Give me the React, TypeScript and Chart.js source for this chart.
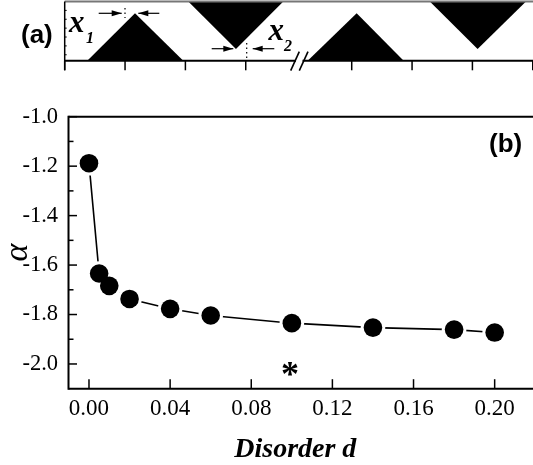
import React, { useEffect, useRef } from "react";
import { Chart, registerables } from "chart.js";

Chart.register(...registerables);

// Panel (b) data
const disorder = [0, 0.005, 0.01, 0.02, 0.04, 0.06, 0.1, 0.14, 0.18, 0.2];
const alpha = [-1.188, -1.634, -1.684, -1.737, -1.777, -1.804, -1.835, -1.853, -1.861, -1.873];
const xTicks = [0, 0.04, 0.08, 0.12, 0.16, 0.2];
const yMajor = [-1.0, -1.2, -1.4, -1.6, -1.8, -2.0];
const yMinor = [-1.1, -1.3, -1.5, -1.7, -1.9];

// Panel (a) schematic, in axis-tick units
const upTriX1 = [0.374, 1.165, 1.965];
const upTriX2 = [4.026, 4.838, 5.617];
const upTriY = [0, 0.8, 0];
const downTriX1 = [2.048, 2.838, 3.622];
const downTriX2 = [6.05, 6.842, 7.644];
const downTriY = [1, 0.198, 1];
const topTicks = [0, 1, 2, 3, 4.756, 5.756, 6.756, 7.756];
const leftDots = [0.1, 0.25, 0.4, 0.55, 0.7, 0.85];

const SERIF = '"Liberation Serif", serif';
const SANS = '"Liberation Sans", sans-serif';

const pts = (xs: number[], ys: number[]) => xs.map((x, i) => ({ x, y: ys[i] }));

const drawText = (
  ctx: CanvasRenderingContext2D,
  text: string,
  x: number,
  y: number,
  font: string,
  align: CanvasTextAlign = "center"
) => {
  ctx.font = font;
  ctx.fillStyle = "#000";
  ctx.textAlign = align;
  ctx.textBaseline = "alphabetic";
  ctx.fillText(text, x, y);
};

const seg = (ctx: CanvasRenderingContext2D, x1: number, y1: number, x2: number, y2: number, w: number, c = "#000") => {
  ctx.strokeStyle = c;
  ctx.lineWidth = w;
  ctx.beginPath();
  ctx.moveTo(x1, y1);
  ctx.lineTo(x2, y2);
  ctx.stroke();
};

const arrow = (ctx: CanvasRenderingContext2D, from: number, to: number, y: number) => {
  seg(ctx, from, y, to, y, 1.2);
  const d = to > from ? -1 : 1;
  ctx.fillStyle = "#000";
  ctx.beginPath();
  ctx.moveTo(to, y);
  ctx.lineTo(to + d * 10, y - 3);
  ctx.lineTo(to + d * 10, y + 3);
  ctx.closePath();
  ctx.fill();
};

const panelAPlugin = {
  id: "panelA",
  afterDatasetsDraw(chart: any) {
    const { ctx, scales, chartArea } = chart;
    const x = scales.x;
    const y = scales.y;
    const b = y.getPixelForValue(0);
    ctx.save();
    seg(ctx, x.left, b, x.right, b, 2);
    seg(ctx, x.left, y.getPixelForValue(1), x.right, y.getPixelForValue(1), 2, "#777");
    seg(ctx, x.left, chartArea.top, x.left, b + 9.6, 1.5);
    topTicks.forEach((t) => {
      const px = x.getPixelForValue(t);
      seg(ctx, px, b, px, b + 9.6, 1.5);
    });
    leftDots.forEach((v) => {
      const py = y.getPixelForValue(v);
      seg(ctx, x.left, py, x.left + 2, py, 1);
    });
    // axis break
    seg(ctx, 296, b, 302.5, b, 4, "#fff");
    seg(ctx, 290.7, 70.7, 299.3, 51.7, 1.6);
    seg(ctx, 299.3, 70.7, 308, 51.7, 1.6);
    // width annotations
    arrow(ctx, 98.7, 121.7, 13.3);
    arrow(ctx, 159.3, 138.3, 13.3);
    arrow(ctx, 211.7, 233.3, 48.7);
    arrow(ctx, 274.3, 252.7, 48.7);
    ctx.setLineDash([1.5, 3]);
    seg(ctx, 125, 8, 125, 18, 1.2);
    seg(ctx, 246.7, 43, 246.7, 58, 1.2);
    ctx.setLineDash([]);
    // texts
    drawText(ctx, "(a)", 21, 42.7, `bold 26px ${SANS}`, "left");
    drawText(ctx, "x", 69, 31.7, `italic bold 31px ${SERIF}`, "left");
    drawText(ctx, "1", 86, 42.5, `italic bold 16px ${SERIF}`, "left");
    drawText(ctx, "x", 268.5, 40, `italic bold 31px ${SERIF}`, "left");
    drawText(ctx, "2", 284, 50.7, `italic bold 16px ${SERIF}`, "left");
    ctx.restore();
  },
};

const panelBPlugin = {
  id: "panelB",
  afterDraw(chart: any) {
    const { ctx, scales } = chart;
    const x = scales.x;
    const y = scales.y;
    ctx.save();
    yMajor.forEach((v) => {
      const py = y.getPixelForValue(v);
      seg(ctx, x.left, py, x.left + 8.5, py, 1.5);
    });
    yMinor.forEach((v) => {
      const py = y.getPixelForValue(v);
      seg(ctx, x.left, py, x.left + 5, py, 1.5);
    });
    xTicks.forEach((v) => {
      const px = x.getPixelForValue(v);
      seg(ctx, px, y.bottom, px, y.bottom - 9.5, 1.5);
    });
    seg(ctx, x.left, y.top, x.right, y.top, 2);
    seg(ctx, x.left, y.top - 1, x.left, y.bottom + 1, 2);
    seg(ctx, x.left, y.bottom, x.right, y.bottom, 2);
    drawText(ctx, "(b)", 489, 152, `bold 26px ${SANS}`, "left");
    drawText(ctx, "*", 290, 386, `bold 36px ${SERIF}`);
    drawText(ctx, "Disorder d", 295.3, 456.7, `italic bold 28px ${SERIF}`);
    ctx.restore();
  },
};

export default function App() {
  const topRef = useRef<HTMLCanvasElement>(null);
  const mainRef = useRef<HTMLCanvasElement>(null);

  useEffect(() => {
    document.body.style.margin = "0";
    const triangle = (xs: number[], ys: number[], fill: string) => ({
      data: pts(xs, ys),
      showLine: true,
      borderWidth: 0,
      borderColor: "#000",
      backgroundColor: "#000",
      pointRadius: 0,
      tension: 0,
      fill,
    });
    const noPad = (s: any) => {
      s.paddingLeft = 0;
      s.paddingRight = 0;
      s.paddingTop = 0;
      s.paddingBottom = 0;
    };
    const top = new Chart(topRef.current!, {
      type: "scatter",
      data: {
        datasets: [
          triangle(upTriX1, upTriY, "origin"),
          triangle(downTriX1, downTriY, "end"),
          triangle(upTriX2, upTriY, "origin"),
          triangle(downTriX2, downTriY, "end"),
        ],
      },
      options: {
        animation: false,
        responsive: false,
        devicePixelRatio: 1,
        layout: { padding: { top: 1.5, left: 0, right: 0, bottom: 0 }, autoPadding: false },
        plugins: { legend: { display: false }, tooltip: { enabled: false } },
        scales: {
          x: {
            type: "linear",
            min: 0,
            max: 7.76,
            grid: { display: false },
            border: { display: false },
            ticks: { display: false },
            afterFit: (s: any) => { noPad(s); s.height = 34.3; },
          },
          y: {
            type: "linear",
            min: 0,
            max: 1,
            grid: { display: false },
            border: { display: false },
            ticks: { display: false },
            afterFit: (s: any) => { noPad(s); s.width = 64.7; },
          },
        },
      } as any,
      plugins: [panelAPlugin],
    });

    const main = new Chart(mainRef.current!, {
      type: "scatter",
      data: {
        datasets: [
          {
            // black discs, drawn above the halo dataset
            order: 1,
            data: pts(disorder, alpha),
            showLine: false,
            pointRadius: 9.3,
            pointBorderWidth: 0,
            pointBackgroundColor: "#000",
            clip: false,
          },
          {
            // connecting line with a white gap around every point
            order: 2,
            data: pts(disorder, alpha),
            showLine: true,
            tension: 0,
            borderColor: "#000",
            borderWidth: 1.6,
            pointRadius: 12.3,
            pointBorderWidth: 0,
            pointBackgroundColor: "#fff",
            clip: false,
          },
        ],
      },
      options: {
        animation: false,
        responsive: false,
        devicePixelRatio: 1,
        layout: { padding: { top: 116.7, right: 0, left: 0, bottom: 0 }, autoPadding: false },
        plugins: { legend: { display: false }, tooltip: { enabled: false } },
        scales: {
          x: {
            type: "linear",
            min: -0.0101,
            max: 0.2189,
            grid: { display: false },
            border: { display: false },
            afterBuildTicks: (s: any) => { s.ticks = xTicks.map((value) => ({ value })); },
            afterFit: (s: any) => { noPad(s); s.height = 76.3; },
            ticks: {
              color: "#000",
              padding: -2,
              maxRotation: 0,
              autoSkip: false,
              font: { family: SERIF, size: 23 },
              callback: (v: any) => Number(v).toFixed(2),
            },
          },
          y: {
            type: "linear",
            min: -2.1,
            max: -1.0,
            grid: { display: false },
            border: { display: false },
            afterBuildTicks: (s: any) => { s.ticks = yMajor.map((value) => ({ value })); },
            afterFit: (s: any) => { noPad(s); s.width = 68.5; },
            title: {
              display: true,
              text: "α",
              color: "#000",
              font: { family: SERIF, size: 34, style: "italic" },
              padding: { top: -2, bottom: 0 },
            },
            ticks: {
              color: "#000",
              padding: 2.5,
              autoSkip: false,
              font: { family: SERIF, size: 22.5 },
              callback: (v: any) => Number(v).toFixed(1),
            },
          },
        },
      } as any,
      plugins: [panelBPlugin],
    });
    return () => {
      top.destroy();
      main.destroy();
    };
  }, []);

  return (
    <div style={{ position: "relative", width: 533, height: 465, background: "#fff", overflow: "hidden" }}>
      <canvas ref={mainRef} width={533} height={465} style={{ position: "absolute", left: 0, top: 0 }} />
      <canvas ref={topRef} width={533} height={95} style={{ position: "absolute", left: 0, top: 0 }} />
    </div>
  );
}
